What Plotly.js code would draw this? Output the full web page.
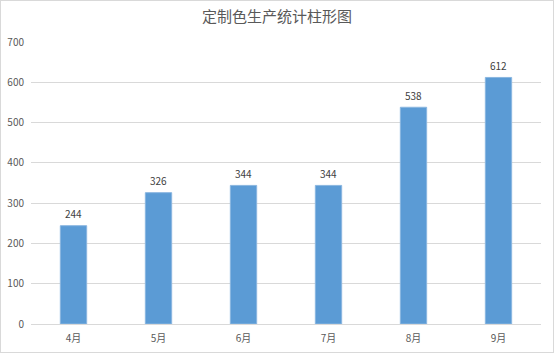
<!DOCTYPE html>
<html>
<head>
<meta charset="utf-8">
<script src="https://cdn.plot.ly/plotly-3.0.1.min.js"></script>
<style>
  html, body { margin: 0; padding: 0; background: #fff; }
  #wrap { position: relative; width: 554px; height: 353px; }
  #chart { width: 554px; height: 353px; }
  #frame { position: absolute; left: 0; top: 0; width: 554px; height: 353px; box-sizing: border-box; border: 1px solid #d9d9d9; pointer-events: none; }
</style>
</head>
<body>
<div id="wrap">
  <div id="chart"></div>
  <div id="frame"></div>
</div>
<script>
const months = ["4月", "5月", "6月", "7月", "8月", "9月"];
const production = [244, 326, 344, 344, 538, 612];
const yTicks = [0, 100, 200, 300, 400, 500, 600, 700];
const chartTitle = "定制色生产统计柱形图";

const trace = {
  type: "bar",
  x: months,
  y: production,
  marker: { color: "#5b9bd5", line: { color: "#8ab6e0", width: 1 } },
  hoverinfo: "skip"
};

const labels = months.map((m, i) => ({
  x: m,
  y: production[i],
  xref: "x",
  yref: "y",
  text: String(production[i]),
  showarrow: false,
  yanchor: "middle",
  yshift: 12,
  font: { family: "Noto Sans CJK SC, sans-serif", size: 10, color: "#404040" }
}));

const layout = {
  width: 554,
  height: 353,
  margin: { l: 31, r: 13, t: 42, b: 29, pad: 0 },
  paper_bgcolor: "#ffffff",
  plot_bgcolor: "#ffffff",
  bargap: 0.69,
  showlegend: false,
  annotations: labels,
  title: {
    text: chartTitle,
    x: 0.5,
    xanchor: "center",
    y: 0.952,
    yanchor: "middle",
    font: { family: "Noto Sans CJK SC, sans-serif", size: 15, color: "#595959" }
  },
  xaxis: {
    type: "category",
    showgrid: false,
    showline: false,
    zeroline: false,
    ticks: "",
    ticklabelstandoff: 7,
    tickfont: { family: "Noto Sans CJK SC, sans-serif", size: 10, color: "#595959" }
  },
  yaxis: {
    range: [0, 700],
    tickvals: yTicks,
    ticktext: yTicks.map(String),
    showgrid: true,
    gridcolor: "#d9d9d9",
    gridwidth: 1,
    zeroline: true,
    zerolinecolor: "#d9d9d9",
    zerolinewidth: 1,
    showline: false,
    ticks: "",
    ticklabelstandoff: 6,
    tickfont: { family: "Noto Sans CJK SC, sans-serif", size: 10, color: "#595959" }
  }
};

Plotly.newPlot("chart", [trace], layout, { staticPlot: true, displayModeBar: false });
</script>
</body>
</html>
